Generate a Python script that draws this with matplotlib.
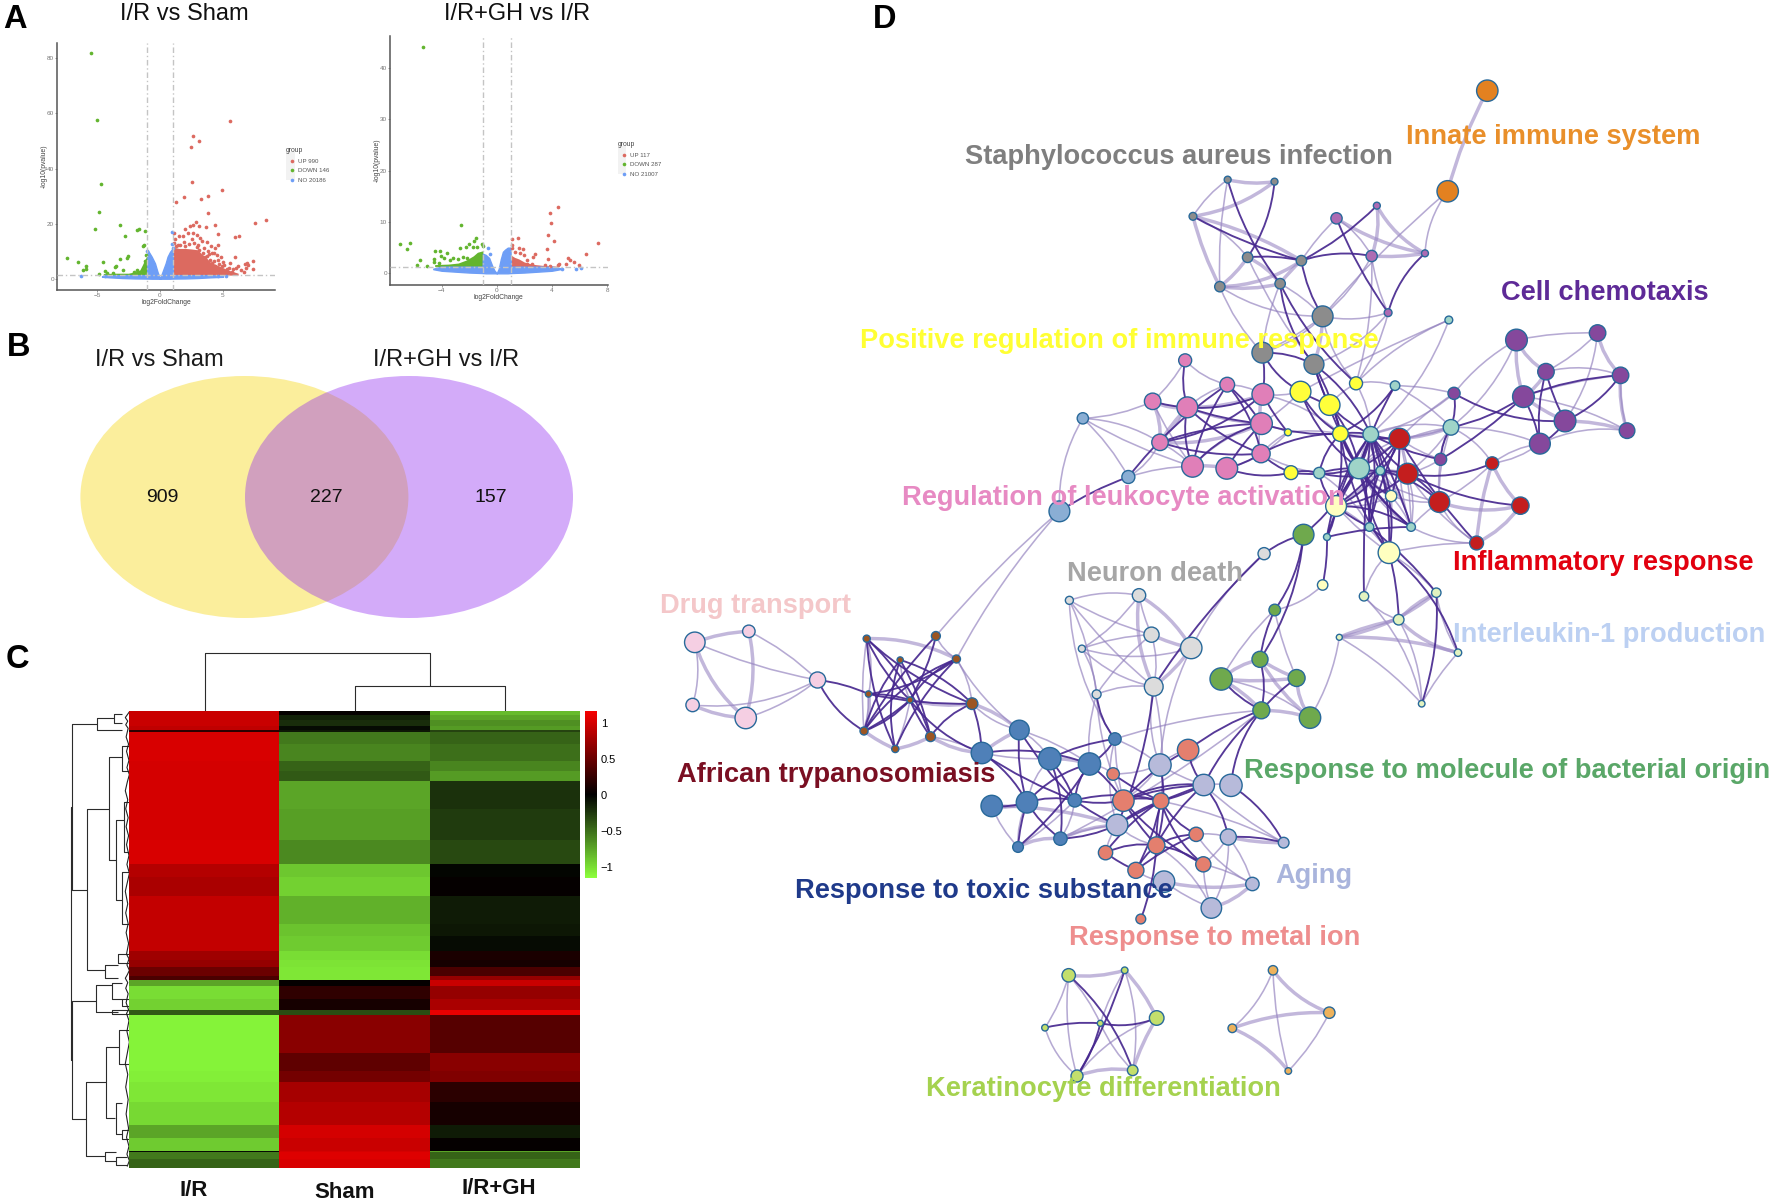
import matplotlib
matplotlib.use("Agg")
import matplotlib.pyplot as plt
from matplotlib.patches import Ellipse, PathPatch, Rectangle
from matplotlib.path import Path
from matplotlib.colors import LinearSegmentedColormap, Normalize
from matplotlib.lines import Line2D

plt.rcParams['font.family'] = ['Liberation Sans', 'DejaVu Sans']

W, H = 1772, 1201

# ---------- panel A data ----------
A1_TITLE = "I/R vs Sham"
A2_TITLE = "I/R+GH vs I/R"
A1_LEGEND = ["UP 990", "DOWN 146", "NO 20186"]
A2_LEGEND = ["UP 117", "DOWN 287", "NO 21007"]

a1_green = [(-5.45,81.8),(-4.97,57.6),(-4.66,34.3),(-4.81,24.2),(-5.16,18),(-3.17,19.5),(-2.78,15.5),(-1.8,17.8),(-1.64,18),
            (-1.16,17.4),(-1.38,12),(-1.3,12.2),(-7.35,7.5),(-6.5,6.2),(-6.14,3.3),(-5.85,4.7),(-5.85,3.6),(-4.52,6),(-4.81,1.8),
            (-2.5,8.2),(-2.65,7.4),(-3.15,7),(-3.47,4.7),(-3.6,4.1),(-2.94,3.1),(-4.4,2.8),(-1.1,8.6),(-1.2,6.5),(-1.85,3.2),(-2.1,2.3),(-3.7,2),(-4.2,2.1)]
a1_red = [(5.56,57.4),(2.65,52),(3.07,49.9),(2.49,48),(2.57,35.1),(4.92,32.2),(3.81,30),(3.25,29),(1.88,29.5),(1.27,27.7),(3.81,23.7),
          (8.39,21.5),(7.51,20.2),(2.86,20.5),(2.6,19.6),(2.41,19.1),(3.12,19.1),(3.68,18.9),(4.34,19.4),(2,17.9),(1.1,16.6),(4.6,16.2),
          (6.27,15.5),(5.98,15),(1.53,15.6),(1.85,15.6),(2.2,16.6),(2.65,16.5),(2.92,15.9),(3.17,14.7),(3.33,13.8),(1.2,14.4),(4.02,11.8),
          (4.63,12.1),(4.37,11),(3.71,13.3),(5.94,7.9),(7.35,6.3),(6.9,5.6),(6.98,5),(6.71,5.2),(6.16,4.7),(6.63,2.5),(7.35,3.4),(5.56,5.7),
          (4.84,7.9),(4.63,6.9),(4.1,9.5),(3.7,8.2),(3.3,7),(3.84,4.6),(4.37,4.6),(4.9,4.6),(5.2,2.5),(5.7,2.5),(5.45,3.8),(4.1,5.6),(3.4,9.2),
          (2.9,11.6),(2.3,12.5),(1.6,12.2),(4.5,8.6),(3.1,10.3),(6.05,3.9),(5.3,3.6),(1.15,13),(1.4,12.3),(1.9,13.3),(2.5,14.3),(2.7,13),(3.0,12.4),
          (3.5,11),(3.8,10.2),(4.25,9.2),(3.55,7.8),(3.95,6.9),(4.3,6.3),(4.7,5.4),(5.1,5),(5.8,3.4),(6.4,3.2),(6.8,3.8),(5.0,6),(3.9,8.8),(2.0,12),(1.3,11.8)]
a1_blue = [(-6.27,0.85),(0.95,17),(0.95,12.6),(1.0,11.2),(-1.0,10.1),(5.2,1.0),(-4.4,1.1),(4.6,0.9)]
a1_blue_x = [-4.6,-4,-3,-2,-1.02,-0.98,-0.66,-0.4,-0.2,0,0.2,0.45,0.6,0.8,1.0,1.02,2,3,4,5]
a1_blue_y = [0.9,1.2,1.3,1.3,1.3,10.4,8,5.6,2.5,0,2.5,5.6,8,9.8,11,1.3,1.3,1.3,1.3,0.9]
a1_blue_low = [0.7,0.5,0.25,0.1,0.05,0.05,0,0,0,0,0,0,0,0,0.05,0.05,0.1,0.25,0.5,0.7]
a1_green_x = [-4.5,-3.5,-2.5,-1.9,-1.6,-1.4,-1.2,-1.0]
a1_green_y = [1.9,2,2,2.6,3.2,5,7,8.5]
a1_red_x = [1,1.5,2,2.5,3,3.3,3.6,4,4.5,5,5.5,6.2]
a1_red_y = [11.5,11,11,10.8,10.5,9,8,6,5,4,3,2]

a2_green = [(-5.38,44.1),(-2.62,9.5),(-7.02,5.8),(-6.3,6),(-6.51,4.7),(-5.6,2.5),(-5.76,1.6),(-5.06,1.5),(-1.5,6.8),(-1.65,6.3),(-1.99,5.7),
            (-2.23,5.1),(-2.66,4.9),(-1.74,5.2),(-1.45,5.1),(-1.07,5.7),(-0.97,5.4),(-4.5,4.4),(-4.1,4.3),(-4.07,3.4),(-3.6,4),(-3.85,2.9),
            (-4.55,2.7),(-4.55,2.3),(-3.15,2.9),(-2.78,2.7),(-2.47,3.1),(-2.18,2.9),(-3.4,2.5),(-4.2,2)]
a2_red = [(4.48,12.9),(3.87,11.8),(3.97,9.9),(3.73,7.5),(4.19,6.2),(7.36,5.9),(1.57,6.8),(1.11,6.6),(3.63,4.7),(6.44,3.8),(2.78,3.8),(3.73,2.7),
          (5.18,3.05),(5.33,2.5),(5.6,2.2),(4.99,1.9),(5.96,1.6),(1.6,4.9),(1.94,4.8),(1.14,5.5),(1.14,4.9),(2.6,3.2),(2,3.6),(2.18,2.6),(2.55,1.9),
          (2.18,1.9),(1.7,3.9),(1.33,4.2),(3.5,1.6),(3.87,1.5),(4.48,1.6),(4.55,1.9)]
a2_blue = [(-0.6,4.9),(4.7,0.85),(5.74,0.9),(6.1,1.0),(-0.5,3.8)]
a2_blue_x = [-4.6,-4,-2,-1.02,-1,-0.8,-0.55,-0.35,-0.18,0,0.15,0.3,0.45,0.6,0.8,1,1.02,2,4,4.6]
a2_blue_y = [0.9,1.3,1.3,1.3,3.8,3.6,3,1.6,0.6,0,0.9,2.8,4.2,4.6,5,5,1.3,1.3,1.3,1]
a2_blue_low = [0.8,0.5,0.15,0.05,0.05,0,0,0,0,0,0,0,0,0,0,0.05,0.05,0.15,0.5,0.8]
a2_green_x = [-4.5,-3.5,-2.8,-2.2,-1.7,-1.4,-1.0]
a2_green_y = [1.7,1.8,2.0,2.6,3.4,4.1,4.4]
a2_red_x = [1,1.3,1.6,2,2.4,2.8,3.5,4.4]
a2_red_y = [3.6,3.1,2.8,2.2,1.9,1.7,1.5,1.4]

RED, GREEN, BLUE = "#dc6a60", "#63b52f", "#6e9ef6"

# ---------- panel B data ----------
VENN_LABELS = ["I/R vs Sham", "I/R+GH vs I/R"]
VENN_COUNTS = [909, 227, 157]

# ---------- panel C data: band edges (row position) and band values per column ----------
HEAT_COLS = ["I/R", "Sham", "I/R+GH"]
heat_edges = [198,210,222,240,252,256,290,336,366,392,470,556,624,660,714,790,824,866,890,912,935,948,965,1000,1030,1045,
              1100,1150,1200,1230,1288,1350,1388,1422,1426,1445,1470]
heat_ir = [0.95,0.95,0.95,0.9,0.2,1.02,1.02,1.0,1.0,1.0,1.0,1.02,0.85,0.8,0.92,0.92,0.92,0.75,0.7,0.5,0.35,-0.75,-1.0,-0.95,-0.4,
           -1.1,-1.1,-1.1,-1.08,-1.05,-0.98,-0.75,-0.92,-0.05,-0.55,-0.45]
heat_sham = [0.02,-0.15,-0.2,-0.05,-0.1,-0.55,-0.6,-0.45,-0.4,-0.75,-0.72,-0.62,-0.9,-0.95,-0.8,-0.88,-0.92,-1.0,-1.03,-1.05,-1.05,
             0.02,0.22,0.1,-0.35,0.65,0.65,0.45,0.55,0.78,0.85,1.0,0.95,1.0,1.05,1.02]
heat_gh = [-0.85,-0.75,-0.65,-0.7,-0.3,-0.45,-0.5,-0.6,-0.7,-0.22,-0.27,-0.33,-0.02,0.02,-0.12,-0.1,-0.05,0.12,0.1,0.35,0.7,0.95,0.7,
           0.8,1.1,0.4,0.4,0.65,0.6,0.2,0.1,-0.12,0.02,-0.75,-0.45,-0.55]
# dendrogram brackets: (x_join, y_top, x_top_end, y_bottom, x_bottom_end)
row_brackets = [(177,234,237,695,214),(177,1006,235,1335,210),(175,465,177,1170,177),(237,218,280,250,300),(214,470,267,920,258),
                (267,327,298,612,285),(298,295,317,365,317),(285,500,305,725,298),(258,905,290,940,290),(235,960,275,1036,290),
                (210,1232,260,1437,258),(260,1133,292,1330,282),(292,1085,317,1180,317),(283,1290,300,1375,300),(258,1425,285,1450,285),
                (280,205,300,232,300),(305,450,317,590,317),(298,645,317,790,317),(290,875,317,900,317),(275,955,300,1000,300),
                (300,1365,317,1390,317),(285,1440,310,1462,310),(300,1000,317,1020,317),(275,1030,317,1042,317)]
col_brackets = [(35,502,198,1053,128),(128,869,198,1237,198)]
leaf_y = [200,208,216,226,236,246,270,290,310,335,355,375,395,420,445,470,495,520,545,570,600,625,650,675,700,735,760,790,815,845,
          875,888,905,920,932,942,954,970,985,1010,1030,1040,1060,1090,1120,1150,1180,1210,1245,1280,1320,1360,1385,1410,1432,1450,1465]

# ---------- panel D data: (node, x, y, radius), in the frame of each detail view ----------
NODES_UPPER = [("S0",525,89,8),("S1",633,95,8),("S2",445,199,9),("S3",571,322,12),("S4",695,332,12),("S5",507,410,12),("S6",646,401,12),
 ("S7",744,499,24),("S8",605,608,24),("S9",724,643,23),("M0",776,205,13),("M1",869,167,8),("M2",857,318,13),("M3",980,310,8),("M4",895,488,9),
 ("C0",1191,570,25),("C1",1378,549,19),("C2",1259,665,19),("C3",1431,676,19),("C4",1207,740,25),("C5",1303,813,25),("C6",1446,842,18),
 ("C7",1245,881,24),("C8",1047,730,14),("C9",1016,928,14),("T0",1035,510,9),("T1",911,707,11),("T2",1040,832,18),("T3",855,853,18),
 ("T4",828,955,24),("T5",736,969,13),("T6",877,962,10),("T7",852,1131,10),("T8",948,1131,10),("T9",754,1161,8),
 ("R0",921,866,24),("R1",940,971,24),("R2",1013,1056,24),("R3",1135,940,15),("R4",1200,1067,20),("R5",1099,1179,16),
 ("Y0",693,725,24),("Y1",760,765,24),("Y2",821,700,15),("Y3",785,851,18),("Y4",664,847,8),("Y5",671,968,16),
 ("P0",427,631,15),("P1",524,704,17),("P2",352,754,19),("P3",432,772,24),("P4",606,733,25),("P5",603,821,25),("P6",369,877,19),
 ("P7",602,911,21),("P8",444,949,25),("P9",523,955,25),("B0",191,805,13),("B1",296,981,15),("B2",137,1084,24),
 ("L0",775,1068,24),("L1",902,1038,13),("L2",897,1208,25),("L3",744,1305,12),("G0",700,1154,24),("N0",609,1211,14)]
NODES_LOWER = [("D0",78,187,23),("D1",199,154,14),("D2",73,375,15),("D3",192,414,24),("D4",353,300,18),
 ("A0",463,176,8),("A1",618,168,10),("A2",538,240,7),("A3",664,237,9),("A4",467,342,7),("A5",560,360,7),("A6",699,371,13),("A7",457,453,9),
 ("A8",606,470,11),("A9",527,507,8),("U0",805,450,22),("U1",721,519,24),("U2",873,536,25),("U3",962,552,25),("U4",1019,477,14),
 ("U5",743,678,24),("U6",822,667,24),("U7",929,661,15),("U8",897,776,15),("U9",802,801,12),
 ("E0",1015,582,14),("E1",1183,510,24),("E2",1038,662,24),("E3",1122,663,18),("E4",1201,763,16),("E5",1112,796,19),("E6",998,818,16),
 ("E7",1066,871,18),("E8",1217,853,17),("E9",1077,1017,11),("V0",1120,555,25),("V1",1218,615,24),("V2",1279,616,25),("V3",1024,735,24),
 ("V4",1273,771,18),("V5",1397,788,12),("V6",1129,905,24),("V7",1327,912,15),("V8",1235,984,23),
 ("N1",1073,46,15),("N2",1101,164,17),("N3",1190,204,24),("N4",1106,320,21),("N5",917,61,9),("N6",945,206,8),("N7",978,343,10),
 ("F0",1257,297,25),("F1",1344,238,18),("F2",1426,294,19),("F3",1347,391,19),("F4",1456,413,24),("F5",1377,90,13)]
NODES_PX = [("O0",1487.3,90.7,10.7),("O1",1447.7,191.3,10.7),
 ("K0",1068.7,975.3,6.7),("K1",1124.7,970.3,3.3),("K2",1156.7,1018,7.3),("K3",1045,1027.7,3.3),("K4",1100.3,1023.3,3),("K5",1077,1076,6),("K6",1132.7,1070.3,5.3),
 ("Q0",1273,970.3,4.7),("Q1",1329.3,1012.7,5.7),("Q2",1232.3,1028.3,4.3),("Q3",1288.3,1071,3.3),
 ("I0",1436.3,592.7,4.7),("I1",1398.7,619.7,5.3),("I2",1458,652.7,3.7),("I3",1421.7,703.7,3.3),("I4",1364,596.3,4.7),("I5",1339.3,637.3,3)]
GROUP_COLORS = {"S":"#8c8c8c","M":"#ad6bb3","O":"#e38120","C":"#85489c","T":"#9fd4c8","R":"#c41e1e","Y":"#ffff3a","P":"#e07fb8","B":"#8aaed4",
 "L":"#ffffc0","G":"#6fa94d","N":"#dcdcdc","D":"#f5cfe3","A":"#9c5522","U":"#4f80b8","E":"#e47f6e","V":"#b7bada","F":"#6fa94d","K":"#c3df6c",
 "Q":"#edb25c","I":"#e2f3c0"}
EDGES_DARK = """S0-S6 S1-S3 S2-S4 S3-S4 S6-S9 S4-S7 S4-M2 M0-M4 M1-S4 M3-M4 S6-Y2 S8-S9 S9-Y1 S9-Y3 Y0-T4 Y1-T3 Y1-T4 Y3-R0 Y3-T3 Y0-Y3 T3-R0 T1-Y3 T1-T4
R0-T4 R1-R3 R1-R4 R1-R2 R0-R5 C9-T3 C8-C5 T2-C4 C8-T2 C9-C4 C4-C7 C7-C5 C2-C7 C3-C5 C2-C5 C4-C3 P3-P8 P3-P7 P3-P0 P2-P3 P6-P5 P6-P4 P1-P8 P4-P3 P5-P9
P7-P9 P9-Y5 P5-Y3 P7-Y3 P4-Y4 L0-T4 L0-R1 L2-T3 L2-Y3 L0-T7 T5-T4 T5-T6 T7-T3 T8-Y3 T8-T9 T9-T4 G0-T3 G0-N0 G0-F5 B1-B2 B1-P1 R2-T6 L1-R0 Y5-T5 I0-T7
D4-A4 D4-A7 A0-A5 A0-A8 A1-A7 A2-A8 A3-A7 A3-A9 A2-A6 A4-A6 A4-A5 A6-A8 A0-A6 A3-A4 A7-A5 A6-U1 A5-U1 U0-U6 U1-U3 U1-U7 U2-U4 U3-U4 U5-U6 U6-U7 U6-U9
U3-U9 U3-U7 U7-E2 U2-U8 U7-V3 U3-E2 E1-V1 E1-E2 E2-E3 E3-V1 E3-E7 E5-E6 E5-E7 E5-E8 E3-E5 E5-E9 E3-E8 V1-E5 V2-V5 E0-E3 E1-F3 F3-V2 F3-V1 G0-F1 L3-T9
N4-V3 N7-U4 F0-F3 F1-F3 F2-F3 F1-F5 N0-N4 E2-E8 V1-V4 E4-E7
T3-T4 T3-T6 T4-T6 R0-T6 R1-T6 R1-T3 Y3-T5 Y3-T4 Y1-Y3 Y0-Y1 L0-T3 L0-T6 L0-R0 L1-T4 L1-T3 L2-T4 L2-T6 T7-T4 T7-T6 T8-T3 T8-T4 T8-L0 T9-L0 T9-T3 R0-T7
Y3-L0 T5-L0 Y5-T4 S9-T3 S9-T4 S8-P4 S8-Y0 P7-Y5 P1-P7 P3-P5 P1-P5 P5-P8 P6-P7 C9-T2 I1-L2 I4-T3 I2-L2 I3-I0
U1-U6 U0-U7 U2-U7 U3-U6 U6-U8 U7-E3 E2-E5 E2-V1 E3-E4 E3-E6 E5-E4 E6-E7 V3-E3 V1-E2 U8-V3 V0-E5 V1-V3 V4-V5 A2-A9 A2-A7 A5-A7 A5-A8 A1-A5 A3-A5 A0-A9
K0-K6 K5-K1 K3-K4 K4-K2 K5-K4"""
EDGES_THICK = """S0-S1 S1-S2 S2-S5 S3-S5 S5-S4 S5-S6 S3-S6 S4-S6 S2-S4 M1-M3 M0-M3 M1-M2 M2-M3 S7-S9 C0-C2 C0-C4 C2-C4 C4-C5 C5-C6 C1-C3 C3-C6
P2-P6 P3-P6 P8-P9 R2-R4 R3-R4 R4-R5 R3-R5 D0-D1 D0-D3 D2-D3 D1-D3 A7-A9 A8-A9 A7-A4 A5-A6 A0-A3 U0-U1 U2-U3 U8-U9 V3-U8 F0-F1 F0-F2 F3-F4 F2-F4 F1-F4
N1-N3 N2-N3 N3-N4 N1-N4 I0-I1 I0-I5 I1-I5 I5-I2 I1-I2 K0-K1 K5-K6 K2-K6 K1-K2 Q0-Q1 Q1-Q2 Q2-Q3 O0-O1 T2-R0 P4-P5 V6-V7 V7-V8 V4-V5 U5-V3 P2-P3 P3-P4
P5-P6 T3-T4 R1-T4 Y3-T3 L0-T6 L1-T4 F1-F2 F0-F3 U5-U6 U0-A6 U1-A8"""
EDGES_THIN = """S0-S2 S2-S3 S0-S5 S6-S7 S5-S7 S7-M2 M0-M2 M0-S4 M4-M2 O1-M3 O1-S7 M4-S7 S8-S7 S8-S6 S9-M4 Y2-M4 T0-T3 T0-Y0 T1-T2 T2-C9 C0-C8 C0-T2 C1-C0 C1-C2
C3-C2 C6-C4 C7-R3 C8-T1 C9-R1 R2-R5 R1-R5 R3-C7 R0-T2 P0-P2 P0-P1 P1-P3 P1-P4 P2-P8 P6-P8 P5-P7 P3-P5 P8-P5 P6-P3 B0-B1 B0-B2 B0-P2 B0-P6 B0-P8 B1-P8 B1-P6
B2-A1 Y2-T3 Y4-P5 Y4-Y3 L0-L1 L1-R2 L0-L2 L2-L1 L2-I0 L2-I4 T4-R2 T6-R1 T8-R0 T7-L2 I3-I4 I0-I2 I1-I3 I2-I3 I5-I3 I4-I1 N0-N3 N5-N1 N5-N2 N5-N7 N6-N3 N6-N1 N7-N4
N5-N4 N7-N2 N6-N4 N7-E2 N2-N4 N1-N2 N6-N2 N4-V0 N3-V0 D0-D2 D0-D4 D1-D4 D2-D4 D3-D4 A0-A4 A0-A7 A4-A7 A1-A3 A2-A5 A3-A6 A9-A5 A8-U1 A6-U0 A3-U0 U0-U2 U1-U2 U0-U3 U2-U6
U5-U9 U7-U8 U4-E2 U4-V0 E0-U3 E0-V0 V0-E3 V0-V1 V1-V2 V3-E5 V4-E4 V6-E7 V6-V8 V8-E8 V8-E5 V7-V4 V7-E4 V5-E3 V4-E8 V8-V4 V3-E6 F0-F4 F5-F2 F0-F5 F5-L3 F4-I5 F3-U8 F3-U4
K0-K3 K3-K5 K0-K5 K1-K6 K1-K4 K0-K4 K2-K5 K4-K6 Q0-Q2 Q0-Q3 Q1-Q3 B2-A3 S5-S8 S7-S8 S3-S9 M2-Y2 S7-Y2 T0-Y2 C8-T3 C8-R0 T2-R1 T2-T4 P4-Y0 P4-Y3 P5-Y0 P7-Y4
P9-Y4 P7-T5 T5-T7 L0-L2 N4-E3 N5-U4 N7-U3 N6-N7 V1-V5 E8-V7 E1-V0 E2-V0 U9-U6 U9-U7 U8-V3 U4-V3 T6-T7 T6-T8 L1-T6 L1-T8 T4-T8 R0-T8 R1-T8 R2-T8 R0-R1 R0-T4 Y2-Y1 Y2-T1
C9-R2 C9-R0 T2-T3 T2-R2 R5-T8 R5-L2 R3-R2 R3-T2 C7-T2 C1-C5 C3-C4 C6-C3 C6-C7"""
NETWORK_LABELS = [("Innate immune system",1406,137,"#e98f2a",19.6),("Staphylococcus aureus infection",965,157,"#7f7f7f",19.6),
 ("Cell chemotaxis",1501,293,"#5e2a97",19.6),("Positive regulation of immune response",860,341,"#ffff33",19.6),
 ("Regulation of leukocyte activation",902,498,"#e78ac3",19.6),("Inflammatory response",1453,563,"#e2000f",19.6),
 ("Neuron death",1067,574,"#a6a6a6",19.6),("Drug transport",660,606,"#f4c7c9",19.6),("Interleukin-1 production",1453,635,"#bcd0f2",19.6),
 ("African trypanosomiasis",677,775,"#7a0f22",19.6),("Response to molecule of bacterial origin",1244,771,"#5aa768",19.6),
 ("Response to toxic substance",795,891,"#1f3a8a",19.6),("Aging",1275,876,"#a9b4dc",19.6),("Response to metal ion",1069,938,"#ee8e8e",19.6),
 ("Keratinocyte differentiation",926,1089,"#a5d24f",19.6)]

# ---------- helpers ----------
fig = plt.figure(figsize=(W/100, H/100), dpi=100, facecolor="white")

def rect(x0, y0, x1, y1):
    return [x0/W, 1-y1/H, (x1-x0)/W, (y1-y0)/H]

ov = fig.add_axes([0,0,1,1], zorder=0)
ov.set_xlim(0, W); ov.set_ylim(H, 0); ov.axis("off")

# ---------- panel A ----------
def volcano(box, xlim, ylim, xticks, yticks, green, red, blue, bx, by, bl, gx, gy, rx, ry):
    ax = fig.add_axes(rect(*box), zorder=2)
    ax.patch.set_alpha(0)
    ax.set_xlim(*xlim); ax.set_ylim(*ylim)
    ax.fill_between(rx, 1.3, ry, color=RED, lw=0, zorder=2)
    ax.fill_between(gx, 1.3, gy, color=GREEN, lw=0, zorder=2)
    ax.fill_between(bx, bl, by, color=BLUE, lw=1.0, edgecolor=BLUE, zorder=3)
    for pts, c in ((red, RED), (green, GREEN), (blue, BLUE)):
        ax.scatter([p[0] for p in pts], [p[1] for p in pts], s=7, color=c, lw=0, zorder=4)
    for v in (-1, 1):
        ax.axvline(v, color="#c4c4c4", lw=1.0, ls=(0,(4,2,1,2)), zorder=5)
    ax.axhline(1.3, color="#c4c4c4", lw=1.0, ls=(0,(4,2,1,2)), zorder=5)
    for s in ("top", "right"):
        ax.spines[s].set_visible(False)
    for s in ("left", "bottom"):
        ax.spines[s].set_color("#555555"); ax.spines[s].set_linewidth(1.1)
    ax.set_xticks(xticks); ax.set_yticks(yticks)
    ax.tick_params(labelsize=4.6, length=1.2, width=0.5, colors="#777777", pad=1.0)
    ax.set_xlabel("log2FoldChange", fontsize=4.9, color="#444444", labelpad=1.0)
    ax.set_ylabel("-log10(pvalue)", fontsize=4.9, color="#444444", labelpad=-0.5)
    return ax

a1 = volcano((57.3,42.7,275.3,290), (-8.15,9.15), (-4.1,85.7), [-5,0,5], [0,20,40,60,80],
             a1_green, a1_red, a1_blue, a1_blue_x, a1_blue_y, a1_blue_low, a1_green_x, a1_green_y, a1_red_x, a1_red_y)
a2 = volcano((390,36,607.7,284.7), (-7.74,8.05), (-2.22,46.25), [-4,0,4,8], [0,10,20,30,40],
             a2_green, a2_red, a2_blue, a2_blue_x, a2_blue_y, a2_blue_low, a2_green_x, a2_green_y, a2_red_x, a2_red_y)

def legend(ax, labels, x, y, kx, kw):
    ov.add_patch(Rectangle((kx, y+5), kw, 28, fc="#f2f2f2", ec="none"))
    handles = [Line2D([], [], ls="", marker="o", ms=2.6, mec="none", color=c) for c in (RED, GREEN, BLUE)]
    leg = ax.legend(handles, labels, title="group", loc="upper left", bbox_to_anchor=(x, y), bbox_transform=ov.transData,
                    frameon=False, fontsize=4.4, title_fontsize=4.9, labelspacing=0.72, borderpad=0, borderaxespad=0,
                    handletextpad=0.1, handlelength=2.0)
    leg._legend_box.align = "left"
    for t in leg.get_texts():
        t.set_color("#555555")
    leg.get_title().set_color("#444444")

legend(a1, A1_LEGEND, 285.5, 147, 286.5, 9)
legend(a2, A2_LEGEND, 617.5, 141, 618, 8.5)
ov.text(184, 19.5, A1_TITLE, fontsize=17, ha="center", va="baseline", color="#111111")
ov.text(517, 19.5, A2_TITLE, fontsize=17, ha="center", va="baseline", color="#111111")

# ---------- panel B ----------
ov.add_patch(Ellipse((244.4, 497), 328, 242, fc="#fbee9c", ec="none"))
ov.add_patch(Ellipse((409, 497), 328, 242, fc=(147/255,45/255,242/255,0.4), ec="none"))
for x, t in zip((159, 446), VENN_LABELS):
    ov.text(x, 360, t, fontsize=17, ha="center", va="center", color="#1a1a1a")
for x, n in zip((162, 326, 491), VENN_COUNTS):
    ov.text(x, 497, str(n), fontsize=14, ha="center", va="center", color="#111111")

# ---------- panel C ----------
zx = lambda v: v/2.45
zy = lambda v: 640+v/2.785
cmap = LinearSegmentedColormap.from_list("gkr", ["#8cff3c", "#000000", "#f50000"])
norm = Normalize(-1.16, 1.16)
hm = fig.add_axes(rect(zx(317), zy(198), zx(1420), zy(1470)), zorder=2)
mesh = hm.pcolormesh([0,1,2,3], heat_edges, [[a,b,c] for a,b,c in zip(heat_ir, heat_sham, heat_gh)], cmap=cmap, norm=norm)
hm.set_ylim(1470, 198); hm.set_xlim(0,3); hm.axis("off")
cax = fig.add_axes(rect(zx(1433), zy(198), zx(1462), zy(663)), zorder=2)
cb = fig.colorbar(mesh, cax=cax, ticks=[1,0.5,0,-0.5,-1])
cb.ax.set_yticklabels(["1","0.5","0","\u22120.5","\u22121"])
cb.ax.tick_params(length=0, labelsize=8, pad=3)
cb.outline.set_visible(False)
DK = dict(color="#2b2b2b", lw=0.8, solid_capstyle="butt", zorder=1)
for x, y0, x0, y1, x1 in row_brackets:
    ov.plot([zx(x0), zx(x), zx(x), zx(x1)], [zy(y0), zy(y0), zy(y1), zy(y1)], **DK)
for y, x0, y0, x1, y1 in col_brackets:
    ov.plot([zx(x0), zx(x0), zx(x1), zx(x1)], [zy(y0), zy(y), zy(y), zy(y1)], **DK)
ov.plot([zx(317 - (i*5) % 11) for i in range(len(leaf_y))], [zy(y) for y in leaf_y], color="#222222", lw=0.8, zorder=1)
hm_labels_x = (194, 345, 499); hm_labels_y = (1191, 1193, 1189)
for x, y, t in zip(hm_labels_x, hm_labels_y, HEAT_COLS):
    ov.text(x, y, t, fontsize=16, fontweight="bold", ha="center", va="center", color="#111111")

# ---------- panel D ----------
pos = {}
for n, x, y, r in NODES_UPPER:
    pos[n] = (1000+x/2.306, 150+y/3, r/2.306)
for n, x, y, r in NODES_LOWER:
    pos[n] = (660+x/2.24, 580+y/3, r/2.24)
for n, x, y, r in NODES_PX:
    pos[n] = (x, y, r)

def draw_edges(spec, color, lw, alpha, z):
    for i, e in enumerate(spec.split()):
        a, b = e.split("-")
        xa, ya, _ = pos[a]; xb, yb, _ = pos[b]
        rad = (0.10, -0.13, 0.06, -0.08, 0.15)[i % 5]
        if (xa-xb)**2 + (ya-yb)**2 > 150**2:
            rad *= 0.4
        cx = (xa+xb)/2 - (yb-ya)*rad
        cy = (ya+yb)/2 + (xb-xa)*rad
        p = Path([(xa,ya),(cx,cy),(xb,yb)], [Path.MOVETO, Path.CURVE3, Path.CURVE3])
        ov.add_patch(PathPatch(p, fc="none", ec=color, lw=lw, alpha=alpha, zorder=z))

draw_edges(EDGES_THIN, "#8f7dbc", 1.15, 0.65, 3)
draw_edges(EDGES_THICK, "#9a88c4", 2.5, 0.6, 3.1)
draw_edges(EDGES_DARK, "#47288f", 1.35, 0.92, 3.2)

names = list(pos)
ov.scatter([pos[n][0] for n in names], [pos[n][1] for n in names],
           s=[(2*pos[n][2]*0.72)**2 for n in names],
           c=[GROUP_COLORS[n[0]] for n in names], edgecolors="#28699a", linewidths=1.0, zorder=4)
for t, x, y, c, fs in NETWORK_LABELS:
    ov.text(x, y, t, color=c, fontsize=fs, fontweight="bold", ha="left", va="center", zorder=6)

# ---------- panel letters ----------
for t, x, y in (("A",3,19),("B",7,348),("C",6,660),("D",873,20)):
    ov.text(x, y, t, fontsize=23.5, fontweight="bold", ha="left", va="center", color="black", zorder=7)

fig.savefig("out.png", dpi=100, facecolor="white")
